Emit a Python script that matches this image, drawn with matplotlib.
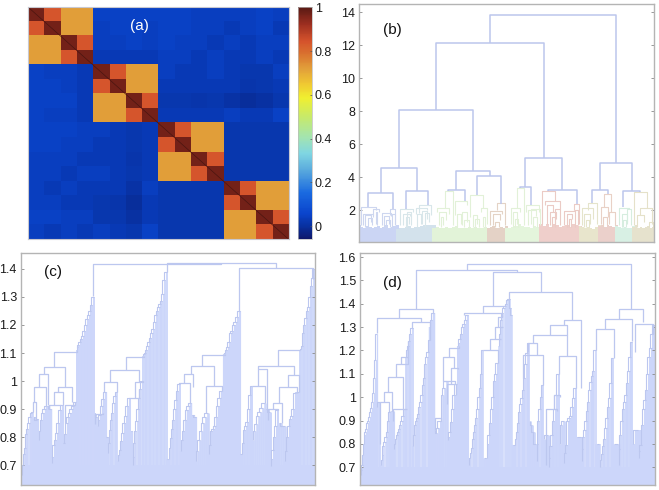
import numpy as np
from matplotlib import pyplot as plt
from matplotlib.collections import LineCollection
from matplotlib.colors import LinearSegmentedColormap

plt.rcParams['font.family'] = ['Liberation Sans', 'DejaVu Sans']

# (a) similarity matrix, one value per sub-block
corr = [
    [.97, .84, .72, .72, .05, .05, .05, .05, .05, .05, .04, .04, .04, .04, .05, .04],
    [.84, .97, .72, .72, .04, .05, .05, .04, .05, .05, .04, .04, .03, .04, .05, .03],
    [.72, .72, .97, .84, .04, .04, .05, .04, .05, .04, .04, .03, .04, .03, .04, .04],
    [.72, .72, .84, .97, .03, .03, .03, .03, .04, .04, .03, .04, .03, .03, .04, .03],
    [.05, .04, .04, .03, .97, .84, .72, .72, .04, .03, .03, .04, .03, .02, .02, .04],
    [.05, .05, .04, .03, .84, .97, .72, .72, .03, .03, .03, .03, .03, .015, .02, .03],
    [.05, .05, .05, .03, .72, .72, .97, .84, .02, .02, .015, .02, .01, -.005, .005, .02],
    [.05, .04, .04, .03, .72, .72, .84, .97, .03, .03, .03, .03, .04, .03, .03, .05],
    [.05, .05, .05, .04, .04, .03, .02, .03, .97, .84, .72, .72, .02, .02, .02, .02],
    [.05, .05, .04, .04, .03, .03, .02, .03, .84, .97, .72, .72, .02, .02, .02, .02],
    [.04, .04, .04, .03, .03, .03, .015, .03, .72, .72, .97, .84, .02, .02, .02, .02],
    [.04, .04, .03, .04, .04, .03, .02, .03, .72, .72, .84, .97, .02, .02, .02, .02],
    [.04, .03, .04, .03, .03, .03, .01, .04, .02, .02, .02, .02, .97, .84, .72, .72],
    [.04, .04, .03, .03, .02, .015, -.005, .03, .02, .02, .02, .02, .84, .97, .72, .72],
    [.05, .05, .04, .04, .02, .02, .005, .03, .02, .02, .02, .02, .72, .72, .97, .84],
    [.04, .03, .04, .03, .04, .03, .02, .05, .02, .02, .02, .02, .72, .72, .84, .97],
]
cbar_ticks = [0, .2, .4, .6, .8, 1]
cbar_labels = ['0', '0.2', '0.4', '0.6', '0.8', '1']

# dendrogram links: left x, right x, top, left bottom, right bottom
# ladders: first leaf x, last leaf x, merge heights
b_links = [
    (450, 828, 13.85, 12.15, 4.85), (287, 612, 12.15, 8.05, 5.15), (176, 398, 8.05, 4.55, 4.4),
    (122, 230, 4.55, 3.05, 3.15), (85, 160, 3.05, 2.2, 2.05), (199, 263, 3.15, 2.1, 2.3),
    (349, 449, 4.4, 3.25, 4.05), (410, 484, 4.05, 2.9, 2.4), (556, 667, 5.15, 3.4, 3.25),
    (625, 710, 3.25, 3.15, 2.4), (780, 877, 4.85, 3.25, 3.15), (757, 803, 3.25, 2.45, 3.0),
    (850, 900, 3.15, 2.2, 3.1), (325, 374, 3.25, 3.2, 2.55), (540, 572, 3.4, 3.35, 2.3),
]
# coloured clusters of (b): x range, line colour, leaf colour, leaf tops, links
b_clusters = [
    (58, 172, '#cdd6ef', '#cbd5f4', [1.1, 1.0, .9, 1.05, 1.0, .95, 1.0, 1.05, .95, 1.0, 1.1, .95, 1.0, 1.05, 1.1], [
        (64, 107, 2.2, 1.1, 2.0), (70, 98, 1.75, 1.1, 1.7), (76, 92, 1.7, 1.0, 1.3), (84, 96, 1.55, 1.0, 1.1),
        (100, 116, 2.05, 1.6, 1.9), (108, 112, 1.9, 1.2, 1.1), (125, 152, 1.85, 1.1, 1.65), (132, 146, 1.65, 1.0, 1.2),
        (138, 150, 1.4, 1.0, 1.0), (150, 166, 2.1, 1.7, 1.2), (156, 164, 1.75, 1.0, 1.1)]),
    (172, 282, '#d8e6ea', '#d3e2ec', [.85, .9, .95, 1.0, 1.05, .95, 1.0, 1.0, 1.05, 1.1, 1.1, 1.1, 1.1], [
        (180, 218, 2.1, 1.1, 1.9), (190, 210, 1.75, 1.1, 1.65), (197, 206, 1.6, 1.0, 1.2), (202, 214, 1.9, 1.0, 1.1),
        (228, 262, 2.15, 1.8, 2.0), (238, 272, 2.3, 1.85, 1.7), (246, 262, 1.95, 1.2, 1.5), (255, 268, 1.85, 1.0, 1.3),
        (232, 244, 1.8, 1.0, 1.2)]),
    (282, 445, '#e2f1d8', '#e2f3d8', [.95, 1.0, .9, .95, 1.0, .9, 1.0, 1.05, .9, .95, .9, 1.0, .95, 1.0, .95, .9, 1.0, .95], [
        (315, 338, 3.2, 2.15, 1.1), (290, 327, 2.15, 1.9, 1.8), (297, 317, 1.9, 1.1, 1.4), (303, 310, 1.6, 1.0, 1.1),
        (346, 381, 2.55, 1.7, 2.3), (350, 362, 1.75, 1.0, 1.2), (366, 380, 1.9, 1.1, 1.3), (372, 388, 1.4, 1.0, 1.0),
        (390, 430, 2.9, 1.6, 2.15), (398, 412, 1.7, 1.0, 1.2), (422, 440, 2.15, 1.9, 1.2), (404, 418, 1.5, 1.0, 1.0),
        (428, 436, 1.6, 1.0, 1.0)]),
    (445, 500, '#e4d3c5', '#e4d2c6', [.9, 1.0, 1.05, .9, .95, 1.0, .95, 1.05], [
        (472, 496, 2.45, 2.0, 1.1), (450, 486, 1.95, 1.1, 1.75), (458, 480, 1.75, 1.1, 1.4), (464, 476, 1.3, 1.0, 1.0)]),
    (500, 603, '#e2f1d8', '#e4f5dc', [.95, .9, 1.0, 1.05, 1.2, 1.05, 1.0, 1.0, .95, 1.05, 1.0, .95], [
        (532, 552, 3.35, 2.15, 1.1), (512, 540, 2.15, 1.2, 1.9), (520, 530, 1.9, 1.0, 1.2), (525, 535, 1.5, 1.0, 1.0),
        (558, 596, 2.3, 1.9, 1.9), (564, 588, 2.0, 1.1, 1.65), (574, 600, 2.05, 1.2, 1.1), (578, 590, 1.6, 1.0, 1.0)]),
    (603, 720, '#ebcbc5', '#efcfcb', [1.2, 1.05, 1.2, 1.0, 1.15, 1.1, 1.0, 1.05, 1.1, 1.0, 1.2, 1.1, 1.05], [
        (607, 644, 3.15, 1.2, 2.55), (616, 661, 2.55, 2.35, 2.1), (622, 640, 2.35, 1.2, 1.9), (630, 648, 1.9, 1.1, 1.5),
        (636, 644, 1.6, 1.0, 1.0), (672, 702, 1.95, 1.1, 2.0), (680, 696, 1.75, 1.0, 1.5), (686, 694, 1.5, 1.0, 1.0),
        (702, 717, 2.4, 2.0, 1.2), (644, 660, 2.1, 1.2, 1.1), (706, 714, 2.0, 1.0, 1.1)]),
    (720, 778, '#e5e4cb', '#e8e5cc', [1.05, 1.0, .9, 1.0, .9, .85, 1.0, 1.1], [
        (745, 770, 2.45, 2.0, 1.2), (725, 760, 2.15, 1.1, 1.5), (732, 750, 1.8, 1.0, 1.2), (738, 746, 1.4, 1.0, 1.0)]),
    (778, 830, '#e9d1c6', '#ebd0cb', [1.05, 1.1, 1.0, 1.1, 1.05, 1.0, 1.1], [
        (792, 814, 3.0, 2.2, 1.9), (782, 805, 2.2, 1.2, 1.6), (808, 824, 1.9, 1.2, 1.1), (788, 800, 1.6, 1.0, 1.1)]),
    (830, 880, '#d6eddf', '#d8f0e4', [1.05, 1.0, .9, 1.0, .95, .9, 1.05], [
        (836, 868, 2.15, 1.1, 2.05), (845, 862, 1.75, 1.0, 1.3), (862, 874, 2.05, 1.2, 1.1), (850, 858, 1.4, 1.0, 1.0)]),
    (880, 941, '#e5e1c9', '#e6e2cd', [1.0, 1.1, .95, 1.0, .95, 1.0, 1.05, .95, 1.0], [
        (882, 922, 3.1, 1.1, 2.15), (900, 935, 2.15, 1.7, 1.2), (892, 912, 1.7, 1.0, 1.3), (926, 938, 1.3, 1.0, 1.0)]),
]

c_floor = 0.70
c_links = [
    (280, 665, 1.418, 1.305, 1.42), (500, 830, 1.42, 1.39, 1.403), (718, 940, 1.403, 1.25, 1.365),
    (98, 108, .925, .89, .865), (102, 137, .978, .925, .91), (118, 145, 1.025, .978, .915),
    (132, 195, 1.05, 1.025, .98), (175, 217, .98, .96, .925), (163, 188, .96, .915, .915),
    (148, 183, .915, .90, .915), (194, 226, .915, .85, .925), (163, 232, 1.105, 1.05, 1.11),
    (284, 310, .883, .845, .885), (313, 350, .995, .96, .96), (386, 418, .94, .94, .97),
    (404, 430, .995, .94, 1.0), (330, 416, 1.04, .995, .995), (377, 432, 1.085, 1.04, 1.09),
    (537, 571, .992, .99, .92), (553, 580, 1.025, .992, .98), (575, 643, 1.055, 1.025, .983),
    (620, 667, .983, .885, .963), (608, 675, 1.093, 1.055, 1.095), (757, 795, .983, .983, .92),
    (775, 803, 1.042, .983, .90), (806, 835, .90, .86, .897), (820, 847, .92, .90, .85),
    (838, 892, .98, .92, .957), (866, 897, 1.022, .98, .96), (775, 883, 1.052, 1.042, 1.022),
    (835, 900, 1.109, 1.052, 1.11),
]
c_ladders = [
    (66, 100, [.665, .70, .74, .76, .81, .83, .85, .87, .885, .89]),
    (101, 115, [.865, .87, .86, .865]),
    (116, 142, [.79, .82, .86, .885, .90, .91]),
    (143, 154, [.90, .91, .90]),
    (155, 188, [.707, .73, .77, .79, .814, .85, .897, .915]),
    (189, 228, [.78, .78, .81, .85, .87, .885, .90, .91, .925]),
    (230, 282, [1.11, 1.12, 1.13, 1.14, 1.15, 1.16, 1.18, 1.20, 1.22, 1.235, 1.25, 1.27, 1.30]),
    (284, 292, [.885, .88, .87]),
    (293, 318, [.84, .86, .88, .91, .935, .96]),
    (319, 324, [.80, .80]),
    (325, 352, [.743, .78, .826, .86, .885, .92, .945, .96]),
    (354, 390, [.713, .735, .755, .785, .814, .85, .874, .91, .94]),
    (392, 397, [.82, .82]),
    (398, 428, [.70, .73, .78, .82, .856, .90, .94, .97, 1.0]),
    (430, 500, [1.09, 1.095, 1.10, 1.11, 1.125, 1.14, 1.155, 1.17, 1.185, 1.21, 1.235, 1.25, 1.265, 1.275, 1.285, 1.31, 1.36, 1.39]),
    (502, 506, [.72, .72]),
    (507, 540, [.72, .76, .796, .83, .862, .90, .933, .965, .99]),
    (543, 575, [.75, .79, .82, .86, .897, .91, .92]),
    (578, 588, [.88, .88, .87]),
    (590, 625, [.715, .75, .79, .82, .85, .87, .885]),
    (628, 668, [.74, .77, .82, .83, .84, .87, .91, .94, .963]),
    (672, 720, [1.095, 1.10, 1.11, 1.12, 1.14, 1.17, 1.18, 1.20, 1.21, 1.23, 1.25]),
    (722, 727, [.74, .74]),
    (728, 758, [.74, .78, .825, .84, .855, .90, .95, .983]),
    (761, 795, [.79, .82, .845, .875, .89, .905, .92]),
    (798, 811, [.90, .90, .89]),
    (813, 835, [.695, .72, .755, .80, .84, .897]),
    (838, 855, [.85, .85, .84, .84]),
    (857, 888, [.713, .75, .80, .84, .865, .875, .90, .957]),
    (890, 899, [.96, .96, .96]),
    (901, 946, [1.11, 1.115, 1.125, 1.17, 1.20, 1.225, 1.25, 1.265, 1.30, 1.34, 1.367, 1.40]),
]

d_floor = 0.70
d_links = [
    (410, 904, 1.57, 1.543, 1.376), (258, 562, 1.543, 1.378, 1.535), (490, 632, 1.535, 1.392, 1.452),
    (538, 727, 1.452, 1.42, 1.329), (458, 524, 1.392, 1.36, 1.39), (207, 310, 1.378, 1.34, 1.36),
    (142, 272, 1.34, 1.273, 1.32), (245, 300, 1.32, 1.295, 1.245), (402, 516, 1.36, 1.35, 1.345),
    (702, 752, 1.329, 1.31, 1.04), (660, 712, 1.31, 1.265, 1.266), (608, 712, 1.266, 1.23, 1.175),
    (595, 622, 1.23, 1.195, 1.18), (580, 640, 1.18, 1.08, 1.05), (686, 738, 1.175, 1.10, 1.04),
    (867, 940, 1.376, 1.335, 1.32), (826, 907, 1.335, 1.29, 1.24), (797, 853, 1.29, 1.20, 1.167),
    (916, 968, 1.315, 1.195, 1.27),
    (150, 178, .98, .80, .938), (163, 187, 1.024, .98, .94), (175, 220, 1.088, 1.024, .95),
    (197, 234, 1.14, 1.088, 1.17), (213, 234, 1.17, 1.14, 1.24), (190, 230, .95, .90, .95),
    (315, 332, .91, .86, .90), (338, 375, 1.07, 1.07, 1.055), (362, 385, 1.124, 1.055, 1.12),
    (340, 373, 1.174, 1.07, 1.124), (358, 388, 1.21, 1.174, 1.22), (350, 377, 1.055, .97, 1.01),
    (458, 505, 1.2, 1.2, 1.145), (481, 512, 1.248, 1.2, 1.25), (495, 518, 1.30, 1.248, 1.30),
    (505, 516, 1.345, 1.30, 1.35), (648, 680, .95, .71, .94), (672, 690, 1.01, .95, 1.0),
]
d_ladders = [
    (92, 140, [.667, .69, .71, .753, .80, .838, .85, .865, .888, .90, .917, .935, .952, .98, 1.02, 1.08, 1.16, 1.27]),
    (142, 150, [.96, .98, .98]),
    (153, 180, [.71, .73, .753, .79, .81, .83, .85, .90, .938]),
    (183, 190, [.94, .94]),
    (192, 225, [.78, .80, .82, .838, .85, .865, .88, .90, .92, .95]),
    (228, 248, [1.17, 1.20, 1.22, 1.24, 1.27, 1.295]),
    (250, 300, [.79, .84, .88, .90, .91, .93, .96, .98, 1.01, 1.05, 1.08, 1.14, 1.17, 1.195, 1.245]),
    (301, 312, [1.3, 1.33, 1.36]),
    (314, 332, [.86, .845, .87, .90]),
    (333, 350, [.90, 1.01, 1.04, 1.07]),
    (353, 380, [.817, .83, .85, .895, .95, 1.01, 1.055]),
    (383, 415, [1.22, 1.23, 1.25, 1.27, 1.30, 1.315, 1.33, 1.35]),
    (417, 460, [.71, .74, .76, .782, .82, .853, .88, .91, .95, 1.0, 1.04, 1.10, 1.2]),
    (463, 469, [.74, .74]),
    (470, 505, [.738, .80, .84, .89, .95, 1.0, 1.07, 1.10, 1.145]),
    (507, 547, [1.22, 1.27, 1.30, 1.33, 1.36, 1.38, 1.39, 1.40, 1.415, 1.42, 1.42, 1.38, 1.35]),
    (549, 554, [.795, .795]),
    (555, 598, [.795, .82, .85, .89, .938, .97, .995, 1.03, 1.08, 1.14, 1.19, 1.23]),
    (600, 618, [.90, .88, .85, .80]),
    (620, 640, [.727, .80, .90, .95, 1.0, 1.05]),
    (642, 654, [.82, .84]),
    (656, 686, [.70, .74, .79, .84, .90, .95, 1.01, 1.10]),
    (690, 702, [.80, .88, .90]),
    (703, 738, [.717, .76, .795, .90, .91, .92, .96, .995, 1.04]),
    (740, 754, [.83, .83]),
    (755, 797, [.725, .78, .83, .86, .90, .94, .98, 1.03, 1.065, 1.09, 1.11, 1.20]),
    (800, 808, [.80, .80]),
    (810, 850, [.70, .73, .755, .79, .82, .87, .91, .96, .995, 1.06, 1.167]),
    (852, 864, [.80, .80]),
    (866, 907, [.71, .78, .84, .90, .95, .98, 1.01, 1.06, 1.11, 1.17, 1.238]),
    (910, 924, [.80, .86]),
    (926, 974, [.74, .77, .795, .88, .95, .99, 1.03, 1.10, 1.17, 1.21, 1.27, 1.31]),
]

LINE = '#bcc7ef'
FILL = '#ccd6fa'
FRAME = '#b4b4b4'
W, H = 659, 490


def add_axes_px(x0, y0, x1, y1):
    return plt.gcf().add_axes([x0 / W, 1 - y1 / H, (x1 - x0) / W, (y1 - y0) / H])


def draw_links(ax, links, color, lw=0.9, zorder=3):
    segs = [[(xl, bl), (xl, top), (xr, top), (xr, br)] for xl, xr, top, bl, br in links]
    ax.add_collection(LineCollection(segs, colors=color, linewidths=lw, zorder=zorder))


def draw_ladder(ax, x0, x1, heights, bottom):
    xs = np.linspace(x0, x1, len(heights))
    step = (x1 - x0) / (len(heights) - 1)
    ax.vlines(xs, bottom, heights, colors=FILL, linewidth=max(step / 3 * 0.72 * 1.35, 0.8), zorder=1)
    # each merge joins the cluster so far with the next leaf on its right
    segs = []
    c = xs[0]
    for i in range(1, len(xs)):
        segs.append([(c, heights[i - 1]), (c, heights[i]), (xs[i], heights[i])])
        c = (c + xs[i]) / 2
    ax.add_collection(LineCollection(segs, colors=LINE, linewidths=0.8, zorder=2))


def style_axes(ax, xlim, ylim, yticks, ylabels):
    ax.set_xlim(xlim)
    ax.set_ylim(ylim)
    ax.set_xticks([])
    ax.set_yticks(yticks)
    ax.set_yticklabels(ylabels)
    ax.tick_params(axis='y', direction='in', left=True, right=True, length=2.5, width=0.6,
                   color='#888888', labelsize=9, labelcolor='#1a1a1a', pad=3)
    for s in ax.spines.values():
        s.set_color(FRAME)
        s.set_linewidth(1.0)


fig = plt.figure(figsize=(W / 100, H / 100), dpi=100)

# (a)
cmap = LinearSegmentedColormap.from_list('soft_jet', [
    (0.00, '#10186a'), (0.055, '#08309f'), (0.11, '#0a44cc'), (0.20, '#1a6ae0'), (0.29, '#55a5dd'),
    (0.37, '#80d6e2'), (0.44, '#a3e4b0'), (0.53, '#c8ea68'), (0.61, '#f0ef30'), (0.67, '#f0c832'),
    (0.735, '#e2a03a'), (0.80, '#d9722f'), (0.855, '#d5532c'), (0.93, '#9c2e20'), (1.00, '#5a1a14')])
ax = add_axes_px(28.3, 7.3, 288.7, 239.3)
im = ax.imshow(np.array(corr), cmap=cmap, vmin=-0.06, vmax=1, aspect='auto', interpolation='nearest')
ax.plot([-0.5, 15.5], [-0.5, 15.5], color='#4a1510', lw=0.5)
ax.set_xlim(-0.5, 15.5)
ax.set_ylim(15.5, -0.5)
ax.set_xticks([])
ax.set_yticks([])
for s in ax.spines.values():
    s.set_color('#c8c8d0')
    s.set_linewidth(0.8)
ax.text(0.425, 0.92, '(a)', transform=ax.transAxes, color='white', fontsize=11, ha='center', va='center')

cax = add_axes_px(298.3, 7.3, 312, 239.3)
cb = fig.colorbar(im, cax=cax, ticks=cbar_ticks)
cb.ax.set_yticklabels(cbar_labels)
cb.ax.tick_params(length=1.5, width=0.5, direction='in', labelsize=9, labelcolor='#1a1a1a', pad=2, color='#555555')
cb.outline.set_edgecolor('#bbbbbb')
cb.outline.set_linewidth(0.5)

# (b)
ax = add_axes_px(359.3, 4, 653.7, 242)
for x0, x1, line, leaf, tops, links in b_clusters:
    xs = np.linspace(x0, x1, len(tops))
    ax.bar(xs, tops, width=(x1 - x0) / (len(tops) - 1), color=leaf, linewidth=0, zorder=1)
    draw_links(ax, links, line, lw=0.8, zorder=2)
draw_links(ax, b_links, '#bcc6ec', lw=1.1)
style_axes(ax, (58, 941), (0.08, 14.5), [2, 4, 6, 8, 10, 12, 14], ['2', '4', '6', '8', '10', '12', '14'])
ax.text(157, 12.9, '(b)', color='#111111', fontsize=11, ha='center', va='center')

# (c)
ax = add_axes_px(21, 253.3, 315, 485)
ax.axhspan(0.6287, c_floor, color=FILL, linewidth=0, zorder=1)
for x0, x1, heights in c_ladders:
    draw_ladder(ax, x0, x1, heights, 0.6287)
draw_links(ax, c_links, LINE)
style_axes(ax, (63, 946), (0.6287, 1.456), [.7, .8, .9, 1, 1.1, 1.2, 1.3, 1.4],
           ['0.7', '0.8', '0.9', '1', '1.1', '1.2', '1.3', '1.4'])
ax.text(158, 1.39, '(c)', color='#111111', fontsize=11, ha='center', va='center')

# (d)
ax = add_axes_px(360, 253.3, 654.7, 485)
ax.axhspan(0.624, d_floor, color=FILL, linewidth=0, zorder=1)
for x0, x1, heights in d_ladders:
    draw_ladder(ax, x0, x1, heights, 0.624)
draw_links(ax, d_links, LINE)
style_axes(ax, (90, 974), (0.624, 1.616), [.7, .8, .9, 1, 1.1, 1.2, 1.3, 1.4, 1.5, 1.6],
           ['0.7', '0.8', '0.9', '1', '1.1', '1.2', '1.3', '1.4', '1.5', '1.6'])
ax.text(187, 1.49, '(d)', color='#111111', fontsize=11, ha='center', va='center')

fig.savefig('out.png', dpi=100)
